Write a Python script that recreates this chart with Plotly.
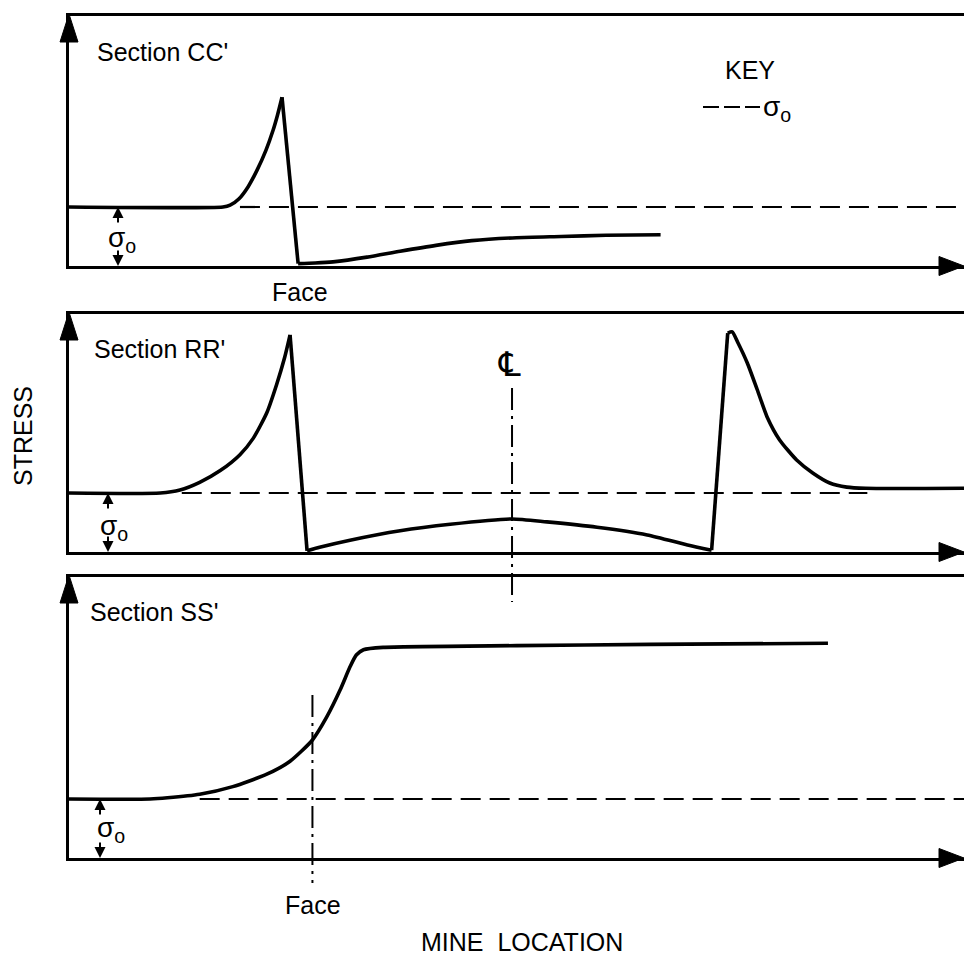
import plotly.graph_objects as go

# ---------------- data (x: mine location 0-100, y: stress in units of sigma_o) -------------
SIGMA0 = 1.0

CC_X = [0, 17.2, 18.0, 19.0, 20.0, 21.0, 22.0, 22.8, 23.3, 23.8, 25.6, 27.5, 29.5, 33.3, 37.0, 41.0, 45.0, 50.0, 55.0, 60.0, 66.1]
CC_Y = [1.0, 1.0, 1.03, 1.14, 1.34, 1.62, 1.96, 2.30, 2.56, 2.86, 0.04, 0.05, 0.07, 0.15, 0.25, 0.35, 0.43, 0.48, 0.50, 0.52, 0.53]

RR_X = [0, 10.2, 12.4, 14.6, 16.9, 19.1, 20.6, 22.1, 23.2, 24.1, 24.7, 26.6, 28.0, 31.4, 37.0, 42.6, 49.5,
        53.4, 59.0, 64.6, 69.1, 71.8, 73.6, 74.1, 74.7, 75.8, 76.9, 78.0, 79.4, 81.3, 83.1, 85.0, 86.9, 89.0, 100]
RR_Y = [1.0, 1.0, 1.05, 1.18, 1.38, 1.65, 1.93, 2.36, 2.84, 3.30, 3.68, 0.02, 0.08, 0.20, 0.36, 0.47, 0.56,
        0.51, 0.42, 0.29, 0.12, 0.03, 3.71, 3.73, 3.56, 3.20, 2.75, 2.29, 1.90, 1.56, 1.34, 1.17, 1.10, 1.08, 1.08]

SS_X = [0, 9.05, 11.0, 14.6, 18.3, 22.1, 24.7, 27.2, 28.8, 30.3, 31.4, 32.1, 32.9, 35.1, 50.0, 65.0, 84.8]
SS_Y = [1.0, 1.0, 1.02, 1.08, 1.21, 1.42, 1.64, 2.0, 2.39, 2.85, 3.24, 3.44, 3.53, 3.57, 3.60, 3.62, 3.64]

SIGMA_X = [[19.1, 100], [12.6, 89.2], [14.6, 100]]   # extent of dashed sigma_o lines
SECTION_NAMES = ["Section CC'", "Section RR'", "Section SS'"]
CENTERLINE_X = 49.5
FACE_X_SS = 27.2

# smooth pieces of each curve (index ranges); the jumps between them are straight
SMOOTH_PIECES = [[(0, 9), (10, 20)], [(0, 10), (11, 21), (22, 34)], [(0, 16)]]

# ---------------- layout constants ----------------
W, H = 964, 959
FONT = "Liberation Sans, Arial, sans-serif"
LEFT_PX = 69
PANELS = [(16, 266), (314, 552), (577, 858)]   # (top, baseline) pixel rows
SIG_PX = 59.0


def px(x):
    return x / W


def py(y):
    return (H - y) / H


fig = go.Figure()
series = [(CC_X, CC_Y), (RR_X, RR_Y), (SS_X, SS_Y)]
line_style = dict(color="black", width=3.6)
for i, ((xs, ys), (top, base)) in enumerate(zip(series, PANELS)):
    n = "" if i == 0 else str(i + 1)
    xa, ya = "x" + n, "y" + n
    pieces = SMOOTH_PIECES[i]
    for a, b in pieces:
        fig.add_trace(go.Scatter(x=xs[a:b + 1], y=ys[a:b + 1], mode="lines", xaxis=xa, yaxis=ya,
                                 line=dict(shape="spline", smoothing=0.6, **line_style),
                                 showlegend=False, hoverinfo="skip"))
    for (a, b), (c, d) in zip(pieces[:-1], pieces[1:]):
        fig.add_trace(go.Scatter(x=xs[b:c + 1], y=ys[b:c + 1], mode="lines", xaxis=xa, yaxis=ya,
                                 line=line_style, showlegend=False, hoverinfo="skip"))
    fig.add_trace(go.Scatter(x=SIGMA_X[i], y=[SIGMA0, SIGMA0], mode="lines", xaxis=xa, yaxis=ya,
                             line=dict(color="black", width=2.2, dash="20px,9px"),
                             showlegend=False, hoverinfo="skip"))
    axcommon = dict(showgrid=False, zeroline=False, showticklabels=False, ticks="",
                    showline=True, linecolor="black", linewidth=2.5)
    fig.layout["xaxis" + n] = dict(domain=[px(LEFT_PX), 1], range=[0, 100], mirror=True,
                                   anchor=ya, **axcommon)
    fig.layout["yaxis" + n] = dict(domain=[py(base), py(top)], range=[0, (base - top) / SIG_PX],
                                   anchor=xa, **axcommon)

shapes = []
annotations = []
for (top, base) in PANELS:
    shapes.append(dict(type="path", xref="paper", yref="paper", xsizemode="pixel", ysizemode="pixel",
                       xanchor=px(LEFT_PX), yanchor=py(top - 1),
                       path="M0,1 L-9,-27 L9,-27 Z", fillcolor="black", line=dict(color="black", width=1)))
    shapes.append(dict(type="path", xref="paper", yref="paper", xsizemode="pixel", ysizemode="pixel",
                       xanchor=1, yanchor=py(base),
                       path="M0,0 L-25,9.5 L-25,-9.5 Z", fillcolor="black", line=dict(color="black", width=1)))

shapes.append(dict(type="line", xref="x2", yref="paper", x0=CENTERLINE_X, x1=CENTERLINE_X,
                   y0=py(388), y1=py(602), line=dict(color="black", width=2, dash="22px,6px,3px,6px")))
shapes.append(dict(type="line", xref="x3", yref="paper", x0=FACE_X_SS, x1=FACE_X_SS,
                   y0=py(695), y1=py(883), line=dict(color="black", width=2, dash="22px,6px,3px,6px")))
shapes.append(dict(type="line", xref="paper", yref="paper", x0=px(703), x1=px(760), y0=py(107), y1=py(107),
                   line=dict(color="black", width=2.2, dash="16px,5px")))


def text(t, x, y, size=25, xanchor="center", angle=0, family=FONT):
    annotations.append(dict(text=t, xref="paper", yref="paper", x=px(x), y=py(y), showarrow=False,
                            xanchor=xanchor, yanchor="middle", textangle=angle,
                            font=dict(family=family, size=size, color="black")))


for name, (lx, ly) in zip(SECTION_NAMES, [(95, 52), (92, 349), (88, 612)]):
    text(name, lx, ly, xanchor="left")

text("Face", 300, 292)
text("Face", 313, 905)
text("KEY", 750, 70)
text("σ<sub>o</sub>", 761, 109, size=28, xanchor="left")
text("STRESS", 23, 436, angle=-90)
text("MINE&nbsp;&nbsp;LOCATION", 522, 942)
text("℄", 509, 364, size=34, family="DejaVu Sans")

for i, (axpx, tx, ty) in enumerate([(118, 106, 239), (108, 98, 527), (100, 95, 829)]):
    n = "" if i == 0 else str(i + 1)
    xd = (axpx - LEFT_PX) / ((W - LEFT_PX) / 100)
    for yv, off in [(SIGMA0, 17), (0, -17)]:
        annotations.append(dict(x=xd, y=yv, xref="x" + n, yref="y" + n, ax=0, ay=off, text="",
                                showarrow=True, arrowhead=2, arrowsize=1.1, arrowwidth=2,
                                arrowcolor="black"))
    text("σ<sub>o</sub>", tx, ty, size=28, xanchor="left")

fig.update_layout(width=W, height=H, margin=dict(l=0, r=0, t=0, b=0),
                  paper_bgcolor="white", plot_bgcolor="white",
                  shapes=shapes, annotations=annotations, showlegend=False)

fig.write_html("out.html")
